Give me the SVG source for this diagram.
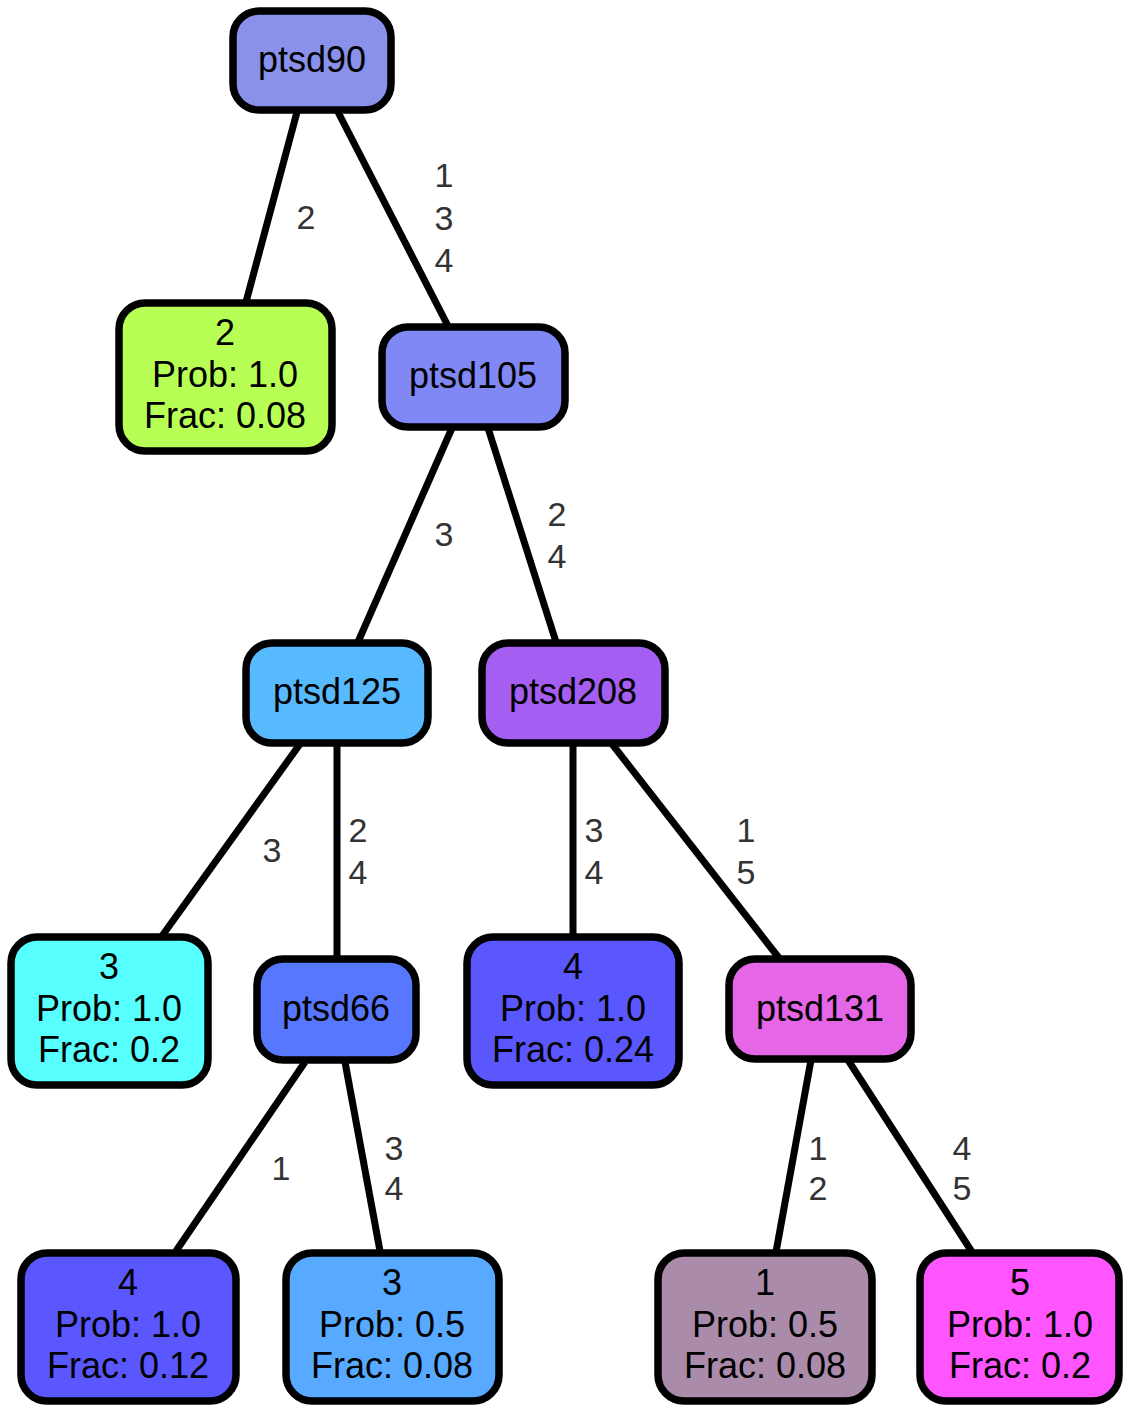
<svg xmlns="http://www.w3.org/2000/svg" width="1131" height="1413" viewBox="0 0 1131 1413">
<style>
.n{stroke:#000;stroke-width:7.5}
.t{font-family:"Liberation Sans",Arial,sans-serif;font-size:36px;fill:#000;text-anchor:middle}
.l{font-family:"Liberation Sans",Arial,sans-serif;font-size:34px;fill:#333;text-anchor:middle}
.e line{stroke:#000;stroke-width:7}
</style>
<rect width="1131" height="1413" fill="#fff"/>
<g id="connectors" class="e">
<line x1="297" y1="112" x2="246" y2="302"/>
<line x1="338" y1="112" x2="448" y2="326"/>
<line x1="452" y1="428" x2="358" y2="642"/>
<line x1="488" y1="428" x2="556" y2="642"/>
<line x1="300" y1="744" x2="162" y2="936"/>
<line x1="337" y1="744" x2="337" y2="958"/>
<line x1="573" y1="744" x2="573" y2="936"/>
<line x1="612" y1="744" x2="779" y2="958"/>
<line x1="305" y1="1062" x2="176" y2="1251"/>
<line x1="345" y1="1062" x2="380" y2="1251"/>
<line x1="811" y1="1060" x2="776" y2="1252"/>
<line x1="848" y1="1060" x2="972" y2="1252"/>
<text class="l" x="306" y="229">2</text>
<text class="l" x="444" y="187">1</text><text class="l" x="444" y="230">3</text><text class="l" x="444" y="272">4</text>
<text class="l" x="444" y="546">3</text>
<text class="l" x="557" y="526">2</text><text class="l" x="557" y="568">4</text>
<text class="l" x="272" y="862">3</text>
<text class="l" x="358" y="842">2</text><text class="l" x="358" y="884">4</text>
<text class="l" x="594" y="842">3</text><text class="l" x="594" y="884">4</text>
<text class="l" x="746" y="842">1</text><text class="l" x="746" y="884">5</text>
<text class="l" x="281" y="1180">1</text>
<text class="l" x="394" y="1160">3</text><text class="l" x="394" y="1200">4</text>
<text class="l" x="818" y="1160">1</text><text class="l" x="818" y="1200">2</text>
<text class="l" x="962" y="1160">4</text><text class="l" x="962" y="1200">5</text>
</g>
<g id="ptsd90"><rect class="n" x="233" y="11" width="158" height="99" rx="26" fill="#8A91EB"/><text class="t" x="312" y="72">ptsd90</text></g>
<g id="leaf2"><rect class="n" x="119" y="303" width="213" height="148" rx="26" fill="#B8FF55"/><text class="t" x="225" y="345">2</text><text class="t" x="225" y="387">Prob: 1.0</text><text class="t" x="225" y="428">Frac: 0.08</text></g>
<g id="ptsd105"><rect class="n" x="382" y="327" width="183" height="100" rx="26" fill="#8088F6"/><text class="t" x="473" y="388">ptsd105</text></g>
<g id="ptsd125"><rect class="n" x="246" y="643" width="182" height="100" rx="26" fill="#57BAFF"/><text class="t" x="337" y="704">ptsd125</text></g>
<g id="ptsd208"><rect class="n" x="482" y="643" width="183" height="100" rx="26" fill="#A55EF2"/><text class="t" x="573" y="704">ptsd208</text></g>
<g id="leaf3a"><rect class="n" x="11" y="937" width="197" height="148" rx="26" fill="#57FFFF"/><text class="t" x="109" y="979">3</text><text class="t" x="109" y="1021">Prob: 1.0</text><text class="t" x="109" y="1062">Frac: 0.2</text></g>
<g id="ptsd66"><rect class="n" x="257" y="959" width="159" height="101" rx="26" fill="#5877FF"/><text class="t" x="336" y="1021">ptsd66</text></g>
<g id="leaf4a"><rect class="n" x="467" y="937" width="212" height="148" rx="26" fill="#5B57FF"/><text class="t" x="573" y="979">4</text><text class="t" x="573" y="1021">Prob: 1.0</text><text class="t" x="573" y="1062">Frac: 0.24</text></g>
<g id="ptsd131"><rect class="n" x="729" y="959" width="182" height="100" rx="26" fill="#E566E6"/><text class="t" x="820" y="1021">ptsd131</text></g>
<g id="leaf4b"><rect class="n" x="21" y="1253" width="215" height="148" rx="26" fill="#5B57FF"/><text class="t" x="128" y="1295">4</text><text class="t" x="128" y="1337">Prob: 1.0</text><text class="t" x="128" y="1378">Frac: 0.12</text></g>
<g id="leaf3b"><rect class="n" x="286" y="1253" width="213" height="148" rx="26" fill="#57AAFF"/><text class="t" x="392" y="1295">3</text><text class="t" x="392" y="1337">Prob: 0.5</text><text class="t" x="392" y="1378">Frac: 0.08</text></g>
<g id="leaf1"><rect class="n" x="658" y="1253" width="214" height="148" rx="26" fill="#AB8BAA"/><text class="t" x="765" y="1295">1</text><text class="t" x="765" y="1337">Prob: 0.5</text><text class="t" x="765" y="1378">Frac: 0.08</text></g>
<g id="leaf5"><rect class="n" x="920" y="1253" width="199" height="148" rx="26" fill="#FF55FF"/><text class="t" x="1020" y="1295">5</text><text class="t" x="1020" y="1337">Prob: 1.0</text><text class="t" x="1020" y="1378">Frac: 0.2</text></g>
</svg>
